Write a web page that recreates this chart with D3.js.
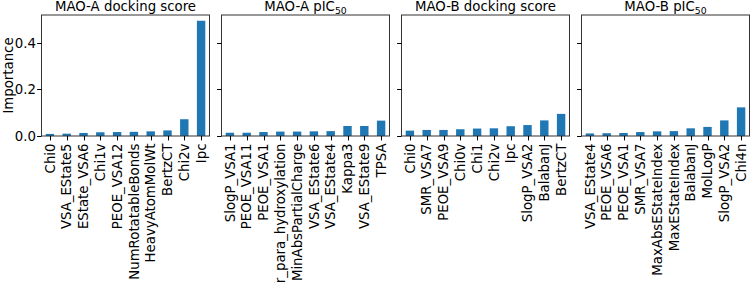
<!DOCTYPE html>
<html>
<head>
<meta charset="utf-8">
<script src="https://cdn.jsdelivr.net/npm/d3@7"></script>
<style>
  body { margin: 0; background: #fff; }
  svg { display: block; }
  text { font-family: "DejaVu Sans", sans-serif; fill: #000; }
</style>
</head>
<body>
<svg id="chart" width="750" height="283"></svg>
<script>
const titles = ["MAO-A docking score", "MAO-A pIC", "MAO-B docking score", "MAO-B pIC"];
const titleSubs = ["", "50", "", "50"];

const featuresMaoADock = ["Chi0", "VSA_EState5", "EState_VSA6", "Chi1v", "PEOE_VSA12", "NumRotatableBonds", "HeavyAtomMolWt", "BertzCT", "Chi2v", "Ipc"];
const valuesMaoADock = [0.009, 0.010, 0.013, 0.016, 0.017, 0.018, 0.020, 0.024, 0.072, 0.495];

const featuresMaoAPic = ["SlogP_VSA1", "PEOE_VSA11", "PEOE_VSA1", "fr_para_hydroxylation", "MinAbsPartialCharge", "VSA_EState6", "VSA_EState4", "Kappa3", "VSA_EState9", "TPSA"];
const valuesMaoAPic = [0.014, 0.014, 0.017, 0.019, 0.019, 0.020, 0.021, 0.043, 0.043, 0.066];

const featuresMaoBDock = ["Chi0", "SMR_VSA7", "PEOE_VSA9", "Chi0v", "Chi1", "Chi2v", "Ipc", "SlogP_VSA2", "BalabanJ", "BertzCT"];
const valuesMaoBDock = [0.023, 0.026, 0.026, 0.029, 0.032, 0.033, 0.042, 0.047, 0.067, 0.095];

const featuresMaoBPic = ["VSA_EState4", "PEOE_VSA6", "PEOE_VSA1", "SMR_VSA7", "MaxAbsEStateIndex", "MaxEStateIndex", "BalabanJ", "MolLogP", "SlogP_VSA2", "Chi4n"];
const valuesMaoBPic = [0.011, 0.012, 0.013, 0.017, 0.020, 0.021, 0.033, 0.039, 0.067, 0.123];

const yTicks = [0.0, 0.2, 0.4];
const yLabel = "Importance";

const panels = [
  {title: titles[0], sub: titleSubs[0], features: featuresMaoADock, values: valuesMaoADock},
  {title: titles[1], sub: titleSubs[1], features: featuresMaoAPic, values: valuesMaoAPic},
  {title: titles[2], sub: titleSubs[2], features: featuresMaoBDock, values: valuesMaoBDock},
  {title: titles[3], sub: titleSubs[3], features: featuresMaoBPic, values: valuesMaoBPic}
];

const svg = d3.select("#chart");
const fsTitle = 13.3;
const fs = 13.3;
const plotTop = 15, plotBottom = 136;
const panelW = 168, gap = 12, left0 = 41.5;
const color = "#1f77b4";
const frameColor = "#333";

const allMax = d3.max(panels, p => d3.max(p.values));
const y = d3.scaleLinear().domain([0, allMax * 1.05]).range([plotBottom, plotTop]);

panels.forEach((p, i) => {
  const x0 = left0 + i * (panelW + gap);
  const g = svg.append("g");
  const idx = d3.range(p.features.length);
  const x = d3.scaleLinear().domain([-0.5, p.features.length - 0.5]).range([x0, x0 + panelW]);
  const bw = x(0.5) - x(0);

  g.selectAll("rect.bar").data(idx).join("rect")
    .attr("class", "bar")
    .attr("x", d => x(d) - bw / 2)
    .attr("width", bw)
    .attr("y", d => y(p.values[d]))
    .attr("height", d => y(0) - y(p.values[d]))
    .attr("fill", color);

  // frame
  g.append("rect")
    .attr("x", x0).attr("y", plotTop)
    .attr("width", panelW).attr("height", plotBottom - plotTop)
    .attr("fill", "none").attr("stroke", frameColor).attr("stroke-width", 1);

  // x axis
  const xa = g.append("g").attr("transform", `translate(0,${plotBottom})`);
  xa.selectAll("line").data(idx).join("line")
    .attr("x1", d => Math.round(x(d)) + 0.5).attr("x2", d => Math.round(x(d)) + 0.5)
    .attr("y1", 0).attr("y2", 4.4)
    .attr("stroke", "#000").attr("stroke-width", 1);
  xa.selectAll("text").data(idx).join("text")
    .attr("transform", d => `translate(${x(d)},${7.5}) rotate(-90)`)
    .attr("text-anchor", "end")
    .attr("dy", "0.35em")
    .attr("font-size", fs)
    .text(d => p.features[d]);

  // y axis ticks
  const ya = g.append("g");
  ya.selectAll("line").data(yTicks).join("line")
    .attr("x1", x0 - 4.4).attr("x2", x0)
    .attr("y1", d => Math.round(y(d)) + 0.5).attr("y2", d => Math.round(y(d)) + 0.5)
    .attr("stroke", "#000").attr("stroke-width", 1);
  if (i === 0) {
    ya.selectAll("text").data(yTicks).join("text")
      .attr("x", x0 - 5.5)
      .attr("y", d => y(d))
      .attr("dy", "0.35em")
      .attr("text-anchor", "end")
      .attr("font-size", fs)
      .text(d => d3.format(".1f")(d));
    svg.append("text")
      .attr("transform", `translate(13,${(plotTop + plotBottom) / 2}) rotate(-90)`)
      .attr("text-anchor", "middle")
      .attr("font-size", fs)
      .text(yLabel);
  }

  // title
  const t = g.append("text")
    .attr("x", x0 + panelW / 2)
    .attr("y", 11)
    .attr("text-anchor", "middle")
    .attr("font-size", fsTitle);
  t.append("tspan").text(p.title);
  if (p.sub) {
    t.append("tspan").attr("font-size", fsTitle * 0.7).attr("dy", 2.5).text(p.sub);
  }
});
</script>
</body>
</html>
